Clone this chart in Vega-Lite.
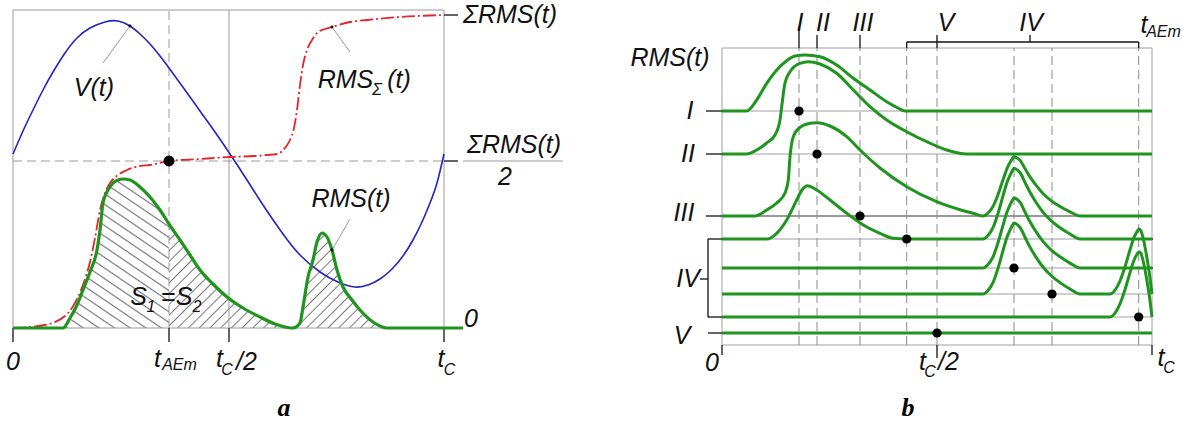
{
"$schema": "https://vega.github.io/schema/vega-lite/v6.json",
"width": 1182, "height": 421,
"autosize": {"type": "fit", "contains": "padding"},
"padding": 0,
"background": "white",
"config": {"view": {"stroke": null}},
"datasets": {
"gl": [{"x":0,"y":0},{"x":50,"y":0},{"x":57,"y":10},{"x":64,"y":23},{"x":70,"y":38},{"x":77,"y":56},{"x":84,"y":78},{"x":87,"y":98},{"x":90,"y":125},{"x":95,"y":138},{"x":100,"y":145},{"x":105,"y":148},{"x":110,"y":149},{"x":117,"y":148},{"x":127,"y":141},{"x":137,"y":131},{"x":147,"y":118},{"x":156,"y":104},{"x":167,"y":88},{"x":177,"y":73},{"x":187,"y":58},{"x":200,"y":44},{"x":214,"y":31},{"x":230,"y":20},{"x":247,"y":11},{"x":262,"y":4},{"x":272,"y":1},{"x":278,"y":0},{"x":280,"y":0},{"x":287,"y":5},{"x":290,"y":21},{"x":295,"y":51},{"x":300,"y":68},{"x":304,"y":86},{"x":309,"y":95},{"x":314,"y":91},{"x":319,"y":78},{"x":324,"y":58},{"x":330,"y":41},{"x":339,"y":28},{"x":347,"y":18},{"x":360,"y":6},{"x":374,"y":0},{"x":450,"y":0}],
"bl": [{"x":0,"y":174},{"x":10,"y":197},{"x":20,"y":218},{"x":30,"y":238},{"x":40,"y":256},{"x":52,"y":275},{"x":64,"y":290},{"x":77,"y":300},{"x":92,"y":306},{"x":105,"y":307},{"x":117,"y":302},{"x":127,"y":294},{"x":137,"y":284},{"x":147,"y":272},{"x":156,"y":260},{"x":172,"y":238},{"x":187,"y":217},{"x":202,"y":196},{"x":217,"y":174},{"x":234,"y":148},{"x":252,"y":120},{"x":270,"y":94},{"x":287,"y":73},{"x":307,"y":56},{"x":325,"y":46},{"x":342,"y":41},{"x":355,"y":43},{"x":367,"y":49},{"x":379,"y":59},{"x":390,"y":72},{"x":400,"y":88},{"x":409,"y":106},{"x":417,"y":125},{"x":424,"y":145},{"x":431,"y":174}],
"rl": [{"x":0,"y":0},{"x":17,"y":1},{"x":32,"y":3},{"x":42,"y":6},{"x":52,"y":12},{"x":59,"y":20},{"x":65,"y":31},{"x":71,"y":46},{"x":77,"y":66},{"x":82,"y":90},{"x":87,"y":118},{"x":92,"y":135},{"x":97,"y":145},{"x":105,"y":153},{"x":114,"y":158},{"x":127,"y":162},{"x":137,"y":163},{"x":156,"y":167},{"x":187,"y":169},{"x":217,"y":171},{"x":242,"y":172},{"x":254,"y":173},{"x":264,"y":174},{"x":272,"y":180},{"x":277,"y":188},{"x":281,"y":200},{"x":284,"y":218},{"x":287,"y":243},{"x":290,"y":263},{"x":294,"y":278},{"x":299,"y":288},{"x":304,"y":295},{"x":312,"y":299},{"x":319,"y":301},{"x":337,"y":306},{"x":354,"y":308},{"x":387,"y":311},{"x":431,"y":313}],
"grayL": [{"x":0,"y":0,"x2":431,"y2":0},{"x":0,"y":318,"x2":431,"y2":318},{"x":0,"y":0,"x2":0,"y2":318},{"x":431,"y":0,"x2":431,"y2":318},{"x":216,"y":0,"x2":216,"y2":318},{"x":450,"y":167,"x2":550,"y2":167}],
"dashL": [{"x":156,"y":0,"x2":156,"y2":318},{"x":0,"y":167,"x2":431,"y2":167}],
"blackL": [{"x":431,"y":313,"x2":445,"y2":313},{"x":431,"y":167,"x2":445,"y2":167},{"x":0,"y":0,"x2":0,"y2":-14},{"x":156,"y":0,"x2":156,"y2":-14},{"x":216,"y":0,"x2":216,"y2":-14},{"x":431,"y":0,"x2":431,"y2":-14}],
"leadL": [{"x":117,"y":302,"x2":90,"y2":265},{"x":319,"y":301,"x2":337,"y2":276},{"x":319,"y":78,"x2":337,"y2":109}],
"tL": [{"x":497,"y":313,"t":"ΣRMS(t)"},{"x":501,"y":183,"t":"ΣRMS(t)"},{"x":492,"y":151,"t":"2"},{"x":458,"y":9,"t":"0"},{"x":81,"y":240,"t":"V(t)"},{"x":332.5,"y":248,"t":"RMS"},{"x":386,"y":248,"t":"(t)"},{"x":338,"y":129,"t":"RMS(t)"},{"x":125.5,"y":31,"t":"S"},{"x":155,"y":31,"t":"="},{"x":171,"y":31,"t":"S"},{"x":0,"y":-34,"t":"0"},{"x":144.5,"y":-31,"t":"t"},{"x":206.5,"y":-31,"t":"t"},{"x":233.5,"y":-34,"t":"/2"},{"x":428,"y":-31,"t":"t"}],
"sL": [{"x":364,"y":238,"t":"Σ"},{"x":138,"y":21,"t":"1"},{"x":184,"y":21,"t":"2"},{"x":166.5,"y":-37,"t":"AEm"},{"x":214,"y":-42,"t":"C"},{"x":436.5,"y":-42,"t":"C"}],
"gr": [
{"r":"I","x":0,"y":234},{"r":"I","x":24.7,"y":234},{"r":"I","x":34.7,"y":245},{"r":"I","x":44.7,"y":261.7},{"r":"I","x":54.7,"y":275},{"r":"I","x":64.7,"y":284.3},{"r":"I","x":73,"y":289},{"r":"I","x":83,"y":290},{"r":"I","x":98,"y":288.3},{"r":"I","x":114.7,"y":280},{"r":"I","x":131,"y":267},{"r":"I","x":148,"y":255},{"r":"I","x":164.7,"y":243.3},{"r":"I","x":176,"y":237},{"r":"I","x":183,"y":234},{"r":"I","x":430,"y":234},
{"r":"II","x":0,"y":191},{"r":"II","x":24.7,"y":191},{"r":"II","x":34.7,"y":195},{"r":"II","x":44.7,"y":202},{"r":"II","x":53,"y":210},{"r":"II","x":58,"y":225},{"r":"II","x":59.7,"y":238.3},{"r":"II","x":63,"y":262},{"r":"II","x":68,"y":273.3},{"r":"II","x":78,"y":281.7},{"r":"II","x":86.3,"y":283.3},{"r":"II","x":98,"y":281},{"r":"II","x":114.7,"y":271.7},{"r":"II","x":131.3,"y":255},{"r":"II","x":148,"y":238.3},{"r":"II","x":164.7,"y":225},{"r":"II","x":184.7,"y":213.3},{"r":"II","x":204.7,"y":203.3},{"r":"II","x":224.7,"y":195},{"r":"II","x":244.7,"y":191},{"r":"II","x":430,"y":191},
{"r":"III","x":0,"y":129},{"r":"III","x":33,"y":129},{"r":"III","x":44.7,"y":135},{"r":"III","x":54.7,"y":142},{"r":"III","x":63,"y":152},{"r":"III","x":66.3,"y":165},{"r":"III","x":68,"y":188.3},{"r":"III","x":71.3,"y":208.3},{"r":"III","x":78,"y":217.7},{"r":"III","x":88,"y":221.7},{"r":"III","x":94.7,"y":222.3},{"r":"III","x":108,"y":219},{"r":"III","x":124.7,"y":208.3},{"r":"III","x":138,"y":195},{"r":"III","x":158,"y":177},{"r":"III","x":184.7,"y":158.3},{"r":"III","x":214.7,"y":143.3},{"r":"III","x":238,"y":135.3},{"r":"III","x":251.3,"y":131.7},{"r":"III","x":261,"y":129},{"r":"III","x":266,"y":132},{"r":"III","x":271,"y":138.5},{"r":"III","x":276,"y":150.3},{"r":"III","x":281,"y":165.2},{"r":"III","x":285,"y":176.4},{"r":"III","x":288,"y":182.4},{"r":"III","x":290.5,"y":186.5},{"r":"III","x":292,"y":188.3},{"r":"III","x":294,"y":187.7},{"r":"III","x":298,"y":184.7},{"r":"III","x":303,"y":176.4},{"r":"III","x":308,"y":168.1},{"r":"III","x":314,"y":159.8},{"r":"III","x":321,"y":151.5},{"r":"III","x":329,"y":144.4},{"r":"III","x":338,"y":138.5},{"r":"III","x":348,"y":133.2},{"r":"III","x":358,"y":129},{"r":"III","x":430,"y":129},
{"r":"IV1","x":0,"y":106},{"r":"IV1","x":44.7,"y":106},{"r":"IV1","x":54.7,"y":111.7},{"r":"IV1","x":64.7,"y":125},{"r":"IV1","x":74.7,"y":145},{"r":"IV1","x":80,"y":155},{"r":"IV1","x":85.3,"y":159.3},{"r":"IV1","x":94.7,"y":155},{"r":"IV1","x":108,"y":145},{"r":"IV1","x":124.7,"y":131.7},{"r":"IV1","x":141.3,"y":120},{"r":"IV1","x":158,"y":111.7},{"r":"IV1","x":171.3,"y":106.7},{"r":"IV1","x":184.7,"y":106},{"r":"IV1","x":261,"y":106},{"r":"IV1","x":266,"y":109.5},{"r":"IV1","x":271,"y":117.3},{"r":"IV1","x":276,"y":131.5},{"r":"IV1","x":281,"y":149.1},{"r":"IV1","x":285,"y":162.6},{"r":"IV1","x":288,"y":169.6},{"r":"IV1","x":290.5,"y":174.6},{"r":"IV1","x":292,"y":176.7},{"r":"IV1","x":294,"y":176},{"r":"IV1","x":298,"y":172.5},{"r":"IV1","x":303,"y":162.6},{"r":"IV1","x":308,"y":152.7},{"r":"IV1","x":314,"y":142.8},{"r":"IV1","x":321,"y":132.9},{"r":"IV1","x":329,"y":124.4},{"r":"IV1","x":338,"y":117.3},{"r":"IV1","x":348,"y":111},{"r":"IV1","x":358,"y":106},{"r":"IV1","x":430,"y":106},
{"r":"IV2","x":0,"y":77},{"r":"IV2","x":261,"y":77},{"r":"IV2","x":266,"y":80.5},{"r":"IV2","x":271,"y":88.2},{"r":"IV2","x":276,"y":102.2},{"r":"IV2","x":281,"y":119.7},{"r":"IV2","x":285,"y":133},{"r":"IV2","x":288,"y":140},{"r":"IV2","x":290.5,"y":144.9},{"r":"IV2","x":292,"y":147},{"r":"IV2","x":294,"y":146.3},{"r":"IV2","x":298,"y":142.8},{"r":"IV2","x":303,"y":133},{"r":"IV2","x":308,"y":123.2},{"r":"IV2","x":314,"y":113.4},{"r":"IV2","x":321,"y":103.6},{"r":"IV2","x":329,"y":95.2},{"r":"IV2","x":338,"y":88.2},{"r":"IV2","x":348,"y":81.9},{"r":"IV2","x":358,"y":77},{"r":"IV2","x":430,"y":77},
{"r":"IV3","x":0,"y":51},{"r":"IV3","x":261,"y":51},{"r":"IV3","x":266,"y":54.6},{"r":"IV3","x":271,"y":62.4},{"r":"IV3","x":276,"y":76.6},{"r":"IV3","x":281,"y":94.3},{"r":"IV3","x":285,"y":107.8},{"r":"IV3","x":288,"y":114.9},{"r":"IV3","x":290.5,"y":119.9},{"r":"IV3","x":292,"y":122},{"r":"IV3","x":294,"y":121.3},{"r":"IV3","x":298,"y":117.7},{"r":"IV3","x":303,"y":107.8},{"r":"IV3","x":308,"y":97.9},{"r":"IV3","x":314,"y":87.9},{"r":"IV3","x":321,"y":78},{"r":"IV3","x":329,"y":69.5},{"r":"IV3","x":338,"y":62.4},{"r":"IV3","x":348,"y":56},{"r":"IV3","x":358,"y":51},{"r":"IV3","x":388,"y":51},{"r":"IV3","x":393,"y":54.9},{"r":"IV3","x":398,"y":64},{"r":"IV3","x":403,"y":78.3},{"r":"IV3","x":408,"y":95.2},{"r":"IV3","x":412,"y":107.6},{"r":"IV3","x":415,"y":113.4},{"r":"IV3","x":417,"y":116},{"r":"IV3","x":419,"y":114.1},{"r":"IV3","x":422,"y":103},{"r":"IV3","x":425,"y":86.8},{"r":"IV3","x":428,"y":67.3},{"r":"IV3","x":430,"y":51},
{"r":"IV4","x":0,"y":28},{"r":"IV4","x":388,"y":28},{"r":"IV4","x":393,"y":31.9},{"r":"IV4","x":398,"y":41.1},{"r":"IV4","x":403,"y":55.4},{"r":"IV4","x":408,"y":72.4},{"r":"IV4","x":412,"y":84.8},{"r":"IV4","x":415,"y":90.7},{"r":"IV4","x":417,"y":93.3},{"r":"IV4","x":419,"y":91.3},{"r":"IV4","x":422,"y":80.2},{"r":"IV4","x":425,"y":63.9},{"r":"IV4","x":428,"y":44.3},{"r":"IV4","x":430,"y":28},
{"r":"V","x":0,"y":12},{"r":"V","x":430,"y":12}],
"grayR": [{"x":0,"y":0,"x2":430,"y2":0},{"x":0,"y":297,"x2":430,"y2":297},{"x":0,"y":0,"x2":0,"y2":297},{"x":430,"y":0,"x2":430,"y2":297},{"x":0,"y":234,"x2":430,"y2":234},{"x":0,"y":191,"x2":430,"y2":191},{"x":0,"y":106,"x2":430,"y2":106},{"x":0,"y":77,"x2":430,"y2":77},{"x":0,"y":51,"x2":430,"y2":51},{"x":0,"y":28,"x2":430,"y2":28},{"x":0,"y":12,"x2":430,"y2":12}],
"darkR": [{"x":0,"y":129,"x2":430,"y2":129}],
"dashR": [{"x":77,"y":0,"x2":77,"y2":297},{"x":95,"y":0,"x2":95,"y2":297},{"x":138,"y":0,"x2":138,"y2":297},{"x":184.7,"y":0,"x2":184.7,"y2":297},{"x":215,"y":0,"x2":215,"y2":297},{"x":292,"y":0,"x2":292,"y2":297},{"x":330,"y":0,"x2":330,"y2":297},{"x":416.7,"y":0,"x2":416.7,"y2":297}],
"blackR": [{"x":-16,"y":234,"x2":0,"y2":234},{"x":-16,"y":191,"x2":0,"y2":191},{"x":-16,"y":129,"x2":0,"y2":129},{"x":-14,"y":12,"x2":0,"y2":12},{"x":-14,"y":106,"x2":-14,"y2":28},{"x":-14,"y":106,"x2":0,"y2":106},{"x":-14,"y":28,"x2":0,"y2":28},{"x":-22,"y":66,"x2":-14,"y2":66},{"x":77,"y":297,"x2":77,"y2":318},{"x":95,"y":297,"x2":95,"y2":310},{"x":138,"y":297,"x2":138,"y2":310},{"x":184.7,"y":297,"x2":184.7,"y2":303},{"x":184.7,"y":303,"x2":416.7,"y2":303},{"x":416.7,"y":303,"x2":416.7,"y2":297},{"x":215,"y":297,"x2":215,"y2":310},{"x":308,"y":303,"x2":308,"y2":310},{"x":0,"y":0,"x2":0,"y2":-10},{"x":215,"y":0,"x2":215,"y2":-13},{"x":430,"y":0,"x2":430,"y2":-10},{"x":423,"y":106,"x2":431,"y2":106},{"x":424,"y":77,"x2":431,"y2":77}],
"dotR": [{"x":77,"y":234},{"x":95,"y":191},{"x":138,"y":129},{"x":184.7,"y":106},{"x":292,"y":77},{"x":330,"y":51},{"x":416.7,"y":28},{"x":215,"y":12}],
"tR": [{"x":-52,"y":287,"t":"RMS(t)"},{"x":-32,"y":234,"t":"I"},{"x":-34,"y":191,"t":"II"},{"x":-38,"y":132,"t":"III"},{"x":-34,"y":66,"t":"IV"},{"x":-40,"y":9,"t":"V"},{"x":78,"y":322,"t":"I"},{"x":101,"y":322,"t":"II"},{"x":141,"y":322,"t":"III"},{"x":224,"y":322,"t":"V"},{"x":309,"y":322,"t":"IV"},{"x":422,"y":320,"t":"t"},{"x":-10,"y":-18,"t":"0"},{"x":200.5,"y":-17,"t":"t"},{"x":226.5,"y":-17,"t":"/2"},{"x":439,"y":-13,"t":"t"}],
"sR": [{"x":441.5,"y":313,"t":"AEm"},{"x":208,"y":-27,"t":"C"},{"x":447,"y":-23,"t":"C"}]
},
"layer": [
{
"encoding": {
"x": {"field": "x", "type": "quantitative", "scale": {"domain": [-13, 1169], "nice": false, "zero": false}, "axis": null},
"y": {"field": "y", "type": "quantitative", "scale": {"domain": [-93, 328], "nice": false, "zero": false}, "axis": null}
},
"layer": [
{"data": {"name": "gl"}, "transform": [{"filter": "datum.x <= 156"}],
 "mark": {"type": "area", "interpolate": "monotone", "fill": {"gradient": "linear", "x1": 0, "y1": 1, "x2": 0.808, "y2": -0.136, "stops": [
{"offset":0.0153,"color":"rgba(120,120,120,0)"},{"offset":0.0208,"color":"#787878"},{"offset":0.0263,"color":"rgba(120,120,120,0)"},
{"offset":0.057,"color":"rgba(120,120,120,0)"},{"offset":0.0625,"color":"#787878"},{"offset":0.068,"color":"rgba(120,120,120,0)"},
{"offset":0.0987,"color":"rgba(120,120,120,0)"},{"offset":0.1042,"color":"#787878"},{"offset":0.1097,"color":"rgba(120,120,120,0)"},
{"offset":0.1403,"color":"rgba(120,120,120,0)"},{"offset":0.1458,"color":"#787878"},{"offset":0.1513,"color":"rgba(120,120,120,0)"},
{"offset":0.182,"color":"rgba(120,120,120,0)"},{"offset":0.1875,"color":"#787878"},{"offset":0.193,"color":"rgba(120,120,120,0)"},
{"offset":0.2237,"color":"rgba(120,120,120,0)"},{"offset":0.2292,"color":"#787878"},{"offset":0.2347,"color":"rgba(120,120,120,0)"},
{"offset":0.2653,"color":"rgba(120,120,120,0)"},{"offset":0.2708,"color":"#787878"},{"offset":0.2763,"color":"rgba(120,120,120,0)"},
{"offset":0.307,"color":"rgba(120,120,120,0)"},{"offset":0.3125,"color":"#787878"},{"offset":0.318,"color":"rgba(120,120,120,0)"},
{"offset":0.3487,"color":"rgba(120,120,120,0)"},{"offset":0.3542,"color":"#787878"},{"offset":0.3597,"color":"rgba(120,120,120,0)"},
{"offset":0.3903,"color":"rgba(120,120,120,0)"},{"offset":0.3958,"color":"#787878"},{"offset":0.4013,"color":"rgba(120,120,120,0)"},
{"offset":0.432,"color":"rgba(120,120,120,0)"},{"offset":0.4375,"color":"#787878"},{"offset":0.443,"color":"rgba(120,120,120,0)"},
{"offset":0.4737,"color":"rgba(120,120,120,0)"},{"offset":0.4792,"color":"#787878"},{"offset":0.4847,"color":"rgba(120,120,120,0)"},
{"offset":0.5153,"color":"rgba(120,120,120,0)"},{"offset":0.5208,"color":"#787878"},{"offset":0.5263,"color":"rgba(120,120,120,0)"},
{"offset":0.557,"color":"rgba(120,120,120,0)"},{"offset":0.5625,"color":"#787878"},{"offset":0.568,"color":"rgba(120,120,120,0)"},
{"offset":0.5987,"color":"rgba(120,120,120,0)"},{"offset":0.6042,"color":"#787878"},{"offset":0.6097,"color":"rgba(120,120,120,0)"},
{"offset":0.6403,"color":"rgba(120,120,120,0)"},{"offset":0.6458,"color":"#787878"},{"offset":0.6513,"color":"rgba(120,120,120,0)"},
{"offset":0.682,"color":"rgba(120,120,120,0)"},{"offset":0.6875,"color":"#787878"},{"offset":0.693,"color":"rgba(120,120,120,0)"},
{"offset":0.7237,"color":"rgba(120,120,120,0)"},{"offset":0.7292,"color":"#787878"},{"offset":0.7347,"color":"rgba(120,120,120,0)"},
{"offset":0.7653,"color":"rgba(120,120,120,0)"},{"offset":0.7708,"color":"#787878"},{"offset":0.7763,"color":"rgba(120,120,120,0)"},
{"offset":0.807,"color":"rgba(120,120,120,0)"},{"offset":0.8125,"color":"#787878"},{"offset":0.818,"color":"rgba(120,120,120,0)"},
{"offset":0.8487,"color":"rgba(120,120,120,0)"},{"offset":0.8542,"color":"#787878"},{"offset":0.8597,"color":"rgba(120,120,120,0)"},
{"offset":0.8903,"color":"rgba(120,120,120,0)"},{"offset":0.8958,"color":"#787878"},{"offset":0.9013,"color":"rgba(120,120,120,0)"},
{"offset":0.932,"color":"rgba(120,120,120,0)"},{"offset":0.9375,"color":"#787878"},{"offset":0.943,"color":"rgba(120,120,120,0)"},
{"offset":0.9737,"color":"rgba(120,120,120,0)"},{"offset":0.9792,"color":"#787878"},{"offset":0.9847,"color":"rgba(120,120,120,0)"}
]}},
 "encoding": {"y2": {"datum": 0}}},
{"data": {"name": "gl"}, "transform": [{"filter": "datum.x >= 156 && datum.x <= 374"}],
 "mark": {"type": "area", "interpolate": "monotone", "fill": {"gradient": "linear", "x1": 0, "y1": 0, "x2": 1.203, "y2": 0.574, "stops": [
{"offset":0.0123,"color":"rgba(120,120,120,0)"},{"offset":0.0167,"color":"#787878"},{"offset":0.0211,"color":"rgba(120,120,120,0)"},
{"offset":0.0456,"color":"rgba(120,120,120,0)"},{"offset":0.05,"color":"#787878"},{"offset":0.0544,"color":"rgba(120,120,120,0)"},
{"offset":0.0789,"color":"rgba(120,120,120,0)"},{"offset":0.0833,"color":"#787878"},{"offset":0.0877,"color":"rgba(120,120,120,0)"},
{"offset":0.1123,"color":"rgba(120,120,120,0)"},{"offset":0.1167,"color":"#787878"},{"offset":0.1211,"color":"rgba(120,120,120,0)"},
{"offset":0.1456,"color":"rgba(120,120,120,0)"},{"offset":0.15,"color":"#787878"},{"offset":0.1544,"color":"rgba(120,120,120,0)"},
{"offset":0.1789,"color":"rgba(120,120,120,0)"},{"offset":0.1833,"color":"#787878"},{"offset":0.1877,"color":"rgba(120,120,120,0)"},
{"offset":0.2123,"color":"rgba(120,120,120,0)"},{"offset":0.2167,"color":"#787878"},{"offset":0.2211,"color":"rgba(120,120,120,0)"},
{"offset":0.2456,"color":"rgba(120,120,120,0)"},{"offset":0.25,"color":"#787878"},{"offset":0.2544,"color":"rgba(120,120,120,0)"},
{"offset":0.2789,"color":"rgba(120,120,120,0)"},{"offset":0.2833,"color":"#787878"},{"offset":0.2877,"color":"rgba(120,120,120,0)"},
{"offset":0.3123,"color":"rgba(120,120,120,0)"},{"offset":0.3167,"color":"#787878"},{"offset":0.3211,"color":"rgba(120,120,120,0)"},
{"offset":0.3456,"color":"rgba(120,120,120,0)"},{"offset":0.35,"color":"#787878"},{"offset":0.3544,"color":"rgba(120,120,120,0)"},
{"offset":0.3789,"color":"rgba(120,120,120,0)"},{"offset":0.3833,"color":"#787878"},{"offset":0.3877,"color":"rgba(120,120,120,0)"},
{"offset":0.4123,"color":"rgba(120,120,120,0)"},{"offset":0.4167,"color":"#787878"},{"offset":0.4211,"color":"rgba(120,120,120,0)"},
{"offset":0.4456,"color":"rgba(120,120,120,0)"},{"offset":0.45,"color":"#787878"},{"offset":0.4544,"color":"rgba(120,120,120,0)"},
{"offset":0.4789,"color":"rgba(120,120,120,0)"},{"offset":0.4833,"color":"#787878"},{"offset":0.4877,"color":"rgba(120,120,120,0)"},
{"offset":0.5123,"color":"rgba(120,120,120,0)"},{"offset":0.5167,"color":"#787878"},{"offset":0.5211,"color":"rgba(120,120,120,0)"},
{"offset":0.5456,"color":"rgba(120,120,120,0)"},{"offset":0.55,"color":"#787878"},{"offset":0.5544,"color":"rgba(120,120,120,0)"},
{"offset":0.5789,"color":"rgba(120,120,120,0)"},{"offset":0.5833,"color":"#787878"},{"offset":0.5877,"color":"rgba(120,120,120,0)"},
{"offset":0.6123,"color":"rgba(120,120,120,0)"},{"offset":0.6167,"color":"#787878"},{"offset":0.6211,"color":"rgba(120,120,120,0)"},
{"offset":0.6456,"color":"rgba(120,120,120,0)"},{"offset":0.65,"color":"#787878"},{"offset":0.6544,"color":"rgba(120,120,120,0)"},
{"offset":0.6789,"color":"rgba(120,120,120,0)"},{"offset":0.6833,"color":"#787878"},{"offset":0.6877,"color":"rgba(120,120,120,0)"},
{"offset":0.7123,"color":"rgba(120,120,120,0)"},{"offset":0.7167,"color":"#787878"},{"offset":0.7211,"color":"rgba(120,120,120,0)"},
{"offset":0.7456,"color":"rgba(120,120,120,0)"},{"offset":0.75,"color":"#787878"},{"offset":0.7544,"color":"rgba(120,120,120,0)"},
{"offset":0.7789,"color":"rgba(120,120,120,0)"},{"offset":0.7833,"color":"#787878"},{"offset":0.7877,"color":"rgba(120,120,120,0)"},
{"offset":0.8123,"color":"rgba(120,120,120,0)"},{"offset":0.8167,"color":"#787878"},{"offset":0.8211,"color":"rgba(120,120,120,0)"},
{"offset":0.8456,"color":"rgba(120,120,120,0)"},{"offset":0.85,"color":"#787878"},{"offset":0.8544,"color":"rgba(120,120,120,0)"},
{"offset":0.8789,"color":"rgba(120,120,120,0)"},{"offset":0.8833,"color":"#787878"},{"offset":0.8877,"color":"rgba(120,120,120,0)"},
{"offset":0.9123,"color":"rgba(120,120,120,0)"},{"offset":0.9167,"color":"#787878"},{"offset":0.9211,"color":"rgba(120,120,120,0)"},
{"offset":0.9456,"color":"rgba(120,120,120,0)"},{"offset":0.95,"color":"#787878"},{"offset":0.9544,"color":"rgba(120,120,120,0)"},
{"offset":0.9789,"color":"rgba(120,120,120,0)"},{"offset":0.9833,"color":"#787878"},{"offset":0.9877,"color":"rgba(120,120,120,0)"}
]}},
 "encoding": {"y2": {"datum": 0}}},
{"data": {"name": "grayL"}, "mark": {"type": "rule", "color": "#9a9a9a", "strokeWidth": 1}, "encoding": {"x2": {"field": "x2"}, "y2": {"field": "y2"}}},
{"data": {"name": "dashL"}, "mark": {"type": "rule", "color": "#9a9a9a", "strokeWidth": 1, "strokeDash": [9, 5]}, "encoding": {"x2": {"field": "x2"}, "y2": {"field": "y2"}}},
{"data": {"name": "leadL"}, "mark": {"type": "rule", "color": "#808080", "strokeWidth": 0.8}, "encoding": {"x2": {"field": "x2"}, "y2": {"field": "y2"}}},
{"data": {"name": "blackL"}, "mark": {"type": "rule", "color": "#111111", "strokeWidth": 1.3}, "encoding": {"x2": {"field": "x2"}, "y2": {"field": "y2"}}},
{"data": {"name": "bl"}, "mark": {"type": "line", "color": "#2424c4", "strokeWidth": 1.6, "interpolate": "natural"}},
{"data": {"name": "rl"}, "mark": {"type": "line", "color": "#e3262a", "strokeWidth": 1.8, "interpolate": "monotone", "strokeDash": [13, 3, 2, 3]}},
{"data": {"name": "gl"}, "mark": {"type": "line", "color": "#1f951f", "strokeWidth": 3.2, "interpolate": "monotone"}},
{"data": {"values": [{"x":117,"y":302},{"x":319,"y":301},{"x":319,"y":78}]}, "mark": {"type": "point", "filled": true, "color": "#000000", "size": 8, "opacity": 1}},
{"data": {"values": [{"x":156,"y":167}]}, "mark": {"type": "point", "filled": true, "color": "#000000", "size": 120, "opacity": 1}},
{"data": {"name": "tL"}, "mark": {"type": "text", "font": "Liberation Sans", "fontStyle": "italic", "fontSize": 25, "align": "center", "baseline": "middle", "color": "#111111"}, "encoding": {"text": {"field": "t"}}},
{"data": {"name": "sL"}, "mark": {"type": "text", "font": "Liberation Sans", "fontStyle": "italic", "fontSize": 16, "align": "center", "baseline": "middle", "color": "#111111"}, "encoding": {"text": {"field": "t"}}},
{"data": {"values": [{"x":271,"y":-80,"t":"a"}]}, "mark": {"type": "text", "font": "Liberation Serif", "fontStyle": "italic", "fontWeight": "bold", "fontSize": 26, "align": "center", "baseline": "middle", "color": "#000000"}, "encoding": {"text": {"field": "t"}}}
]
},
{
"encoding": {
"x": {"field": "x", "type": "quantitative", "scale": {"domain": [-722, 460], "nice": false, "zero": false}, "axis": null},
"y": {"field": "y", "type": "quantitative", "scale": {"domain": [-76, 345], "nice": false, "zero": false}, "axis": null}
},
"layer": [
{"data": {"name": "grayR"}, "mark": {"type": "rule", "color": "#a0a0a0", "strokeWidth": 1}, "encoding": {"x2": {"field": "x2"}, "y2": {"field": "y2"}}},
{"data": {"name": "darkR"}, "mark": {"type": "rule", "color": "#333333", "strokeWidth": 1}, "encoding": {"x2": {"field": "x2"}, "y2": {"field": "y2"}}},
{"data": {"name": "dashR"}, "mark": {"type": "rule", "color": "#8a8a8a", "strokeWidth": 1, "strokeDash": [9, 5]}, "encoding": {"x2": {"field": "x2"}, "y2": {"field": "y2"}}},
{"data": {"name": "blackR"}, "mark": {"type": "rule", "color": "#111111", "strokeWidth": 1.3}, "encoding": {"x2": {"field": "x2"}, "y2": {"field": "y2"}}},
{"data": {"name": "gr"}, "mark": {"type": "line", "color": "#1f951f", "strokeWidth": 3, "interpolate": "monotone"}, "encoding": {"detail": {"field": "r"}}},
{"data": {"name": "dotR"}, "mark": {"type": "point", "filled": true, "color": "#000000", "size": 85, "opacity": 1}},
{"data": {"name": "tR"}, "mark": {"type": "text", "font": "Liberation Sans", "fontStyle": "italic", "fontSize": 25, "align": "center", "baseline": "middle", "color": "#111111"}, "encoding": {"text": {"field": "t"}}},
{"data": {"name": "sR"}, "mark": {"type": "text", "font": "Liberation Sans", "fontStyle": "italic", "fontSize": 16, "align": "center", "baseline": "middle", "color": "#111111"}, "encoding": {"text": {"field": "t"}}},
{"data": {"values": [{"x":186,"y":-63,"t":"b"}]}, "mark": {"type": "text", "font": "Liberation Serif", "fontStyle": "italic", "fontWeight": "bold", "fontSize": 26, "align": "center", "baseline": "middle", "color": "#000000"}, "encoding": {"text": {"field": "t"}}}
]
}
],
"resolve": {"scale": {"x": "independent", "y": "independent"}}
}
